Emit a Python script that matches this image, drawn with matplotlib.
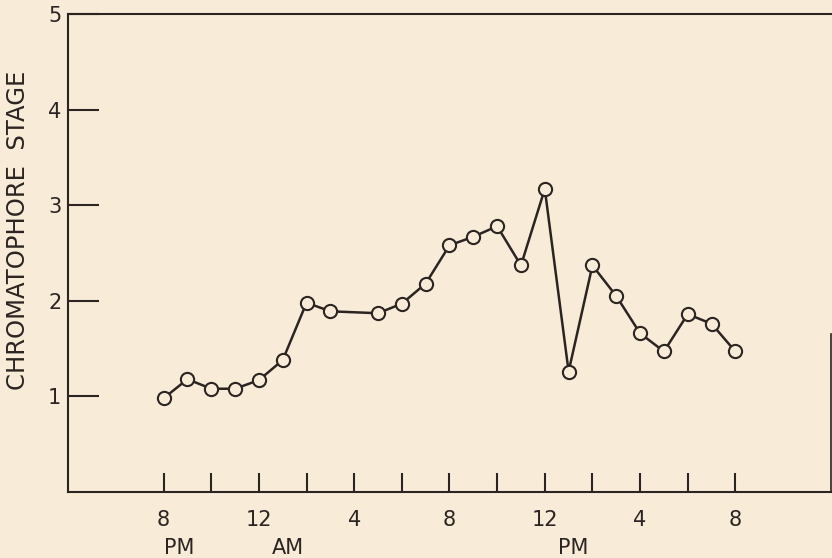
import matplotlib
matplotlib.use("Agg")
import matplotlib.pyplot as plt
import matplotlib.transforms as mtransforms
import numpy as np

# Hours after 8 PM (hour 8 missing in the record)
hours = [0, 1, 2, 3, 4, 5, 6, 7, 9, 10, 11, 12, 13, 14, 15, 16, 17, 18, 19, 20, 21, 22, 23, 24]
stage = [0.98, 1.18, 1.08, 1.08, 1.17, 1.38, 1.98, 1.89, 1.87, 1.97, 2.18, 2.58, 2.67, 2.78,
         2.37, 3.17, 1.26, 2.37, 2.05, 1.66, 1.47, 1.86, 1.76, 1.47]

major_ticks = [0, 4, 8, 12, 16, 20, 24]
major_labels = ["8", "12", "4", "8", "12", "4", "8"]
minor_ticks = [2, 6, 10, 14, 18, 22]
ampm_labels = ["PM", "AM", "PM"]
ampm_pos = [0.65, 5.2, 17.2]
y_ticks = [1, 2, 3, 4, 5]
y_labels = ["1", "2", "3", "4", "5"]

bg = "#f8ecd9"
ink = "#2b2420"

plt.rcParams['font.family'] = ['DejaVu Sans']

fig = plt.figure(figsize=(8.32, 5.58), dpi=100, facecolor=bg)
ax = fig.add_axes([0.0821, 0.1183, 0.9163, 0.8566], facecolor=bg)

ax.plot(hours, stage, color=ink, lw=1.8, marker='o', ms=9.5,
        mfc=bg, mec=ink, mew=1.5, zorder=3)

ax.set_xlim(-4, 28)
ax.set_ylim(0, 5)

ax.set_xticks(major_ticks)
ax.set_xticklabels(major_labels)
ax.set_xticks(minor_ticks, minor=True)
ax.set_yticks(y_ticks)
ax.set_yticklabels(y_labels)

ax.tick_params(axis='x', which='both', direction='in', length=13.5, width=1.5,
               color=ink, labelcolor=ink, labelsize=15, pad=13)
ax.tick_params(axis='y', which='both', direction='in', length=22, width=1.5,
               color=ink, labelcolor=ink, labelsize=15, pad=5)

for name, sp in ax.spines.items():
    sp.set_color(ink)
    sp.set_linewidth(1.5)
ax.spines['right'].set_bounds(0, 1.65)
ax.spines['right'].set_linewidth(1.2)

trans = mtransforms.blended_transform_factory(ax.transData, ax.transAxes)
for lab, pos in zip(ampm_labels, ampm_pos):
    ax.text(pos, -0.117, lab, transform=trans, ha='center', va='center',
            fontsize=15, color=ink)

ax.set_ylabel("CHROMATOPHORE  STAGE", fontsize=17.5, color=ink)
ax.yaxis.set_label_coords(-0.05, 0.548)

fig.savefig("out.png", dpi=100, facecolor=bg)
